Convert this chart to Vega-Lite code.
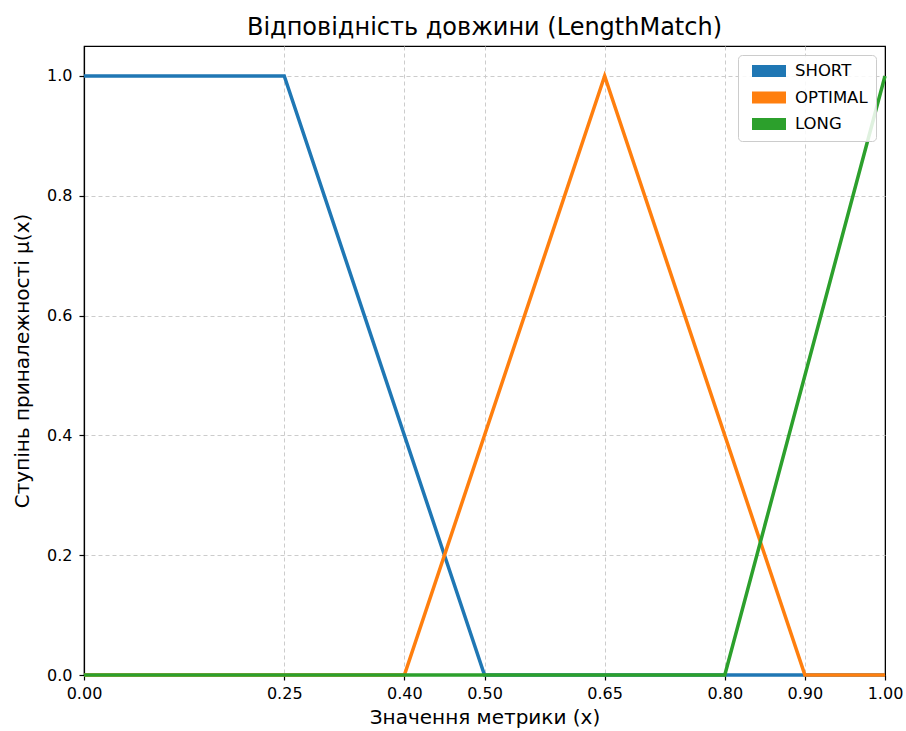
{
  "$schema": "https://vega.github.io/schema/vega-lite/v6.json",
  "width": 801,
  "height": 629,
  "autosize": {"type": "none"},
  "padding": {"left": 84, "top": 46, "right": 21, "bottom": 56},
  "title": {"text": "Відповідність довжини (LengthMatch)", "fontSize": 24, "font": "DejaVu Sans", "fontWeight": "normal", "color": "#000000", "offset": 6, "anchor": "middle"},
  "config": {
    "view": {"stroke": "#000000", "strokeWidth": 1.2},
    "font": "DejaVu Sans",
    "axis": {
      "labelFont": "DejaVu Sans", "labelFontSize": 16, "labelColor": "#000000", "labelFlush": false,
      "titleFont": "DejaVu Sans", "titleFontSize": 20, "titleFontWeight": "normal", "titleColor": "#000000",
      "domainColor": "#000000", "domainWidth": 1.2, "tickColor": "#000000", "tickSize": 5, "tickWidth": 1.2,
      "gridColor": "#cccccc", "gridDash": [4, 3], "gridWidth": 1
    },
    "legend": {
      "labelFont": "DejaVu Sans", "labelFontSize": 16.5, "labelColor": "#000000"
    }
  },
  "data": {"values": [
    {"x": 0, "mu": 1, "set": "SHORT"},
    {"x": 0.25, "mu": 1, "set": "SHORT"},
    {"x": 0.5, "mu": 0, "set": "SHORT"},
    {"x": 1, "mu": 0, "set": "SHORT"},
    {"x": 0, "mu": 0, "set": "OPTIMAL"},
    {"x": 0.4, "mu": 0, "set": "OPTIMAL"},
    {"x": 0.65, "mu": 1, "set": "OPTIMAL"},
    {"x": 0.9, "mu": 0, "set": "OPTIMAL"},
    {"x": 1, "mu": 0, "set": "OPTIMAL"},
    {"x": 0, "mu": 0, "set": "LONG"},
    {"x": 0.8, "mu": 0, "set": "LONG"},
    {"x": 1, "mu": 1, "set": "LONG"}
  ]},
  "mark": {"type": "line", "strokeWidth": 3.5, "clip": false},
  "encoding": {
    "x": {"field": "x", "type": "quantitative", "scale": {"domain": [0, 1], "nice": false, "zero": false},
      "axis": {"values": [0, 0.25, 0.4, 0.5, 0.65, 0.8, 0.9, 1], "format": ".2f", "title": "Значення метрики (x)", "titlePadding": 6, "labelPadding": 5,
        "gridColor": {"condition": {"test": "datum.value === 0 || datum.value === 1", "value": "#000000"}, "value": "#cccccc"},
        "gridDash": {"condition": {"test": "datum.value === 0 || datum.value === 1", "value": []}, "value": [4, 3]}}},
    "y": {"field": "mu", "type": "quantitative", "scale": {"domain": [0, 1.05], "nice": false},
      "axis": {"values": [0, 0.2, 0.4, 0.6, 0.8, 1.0], "format": ".1f", "title": "Ступінь приналежності μ(x)", "titlePadding": 14, "labelPadding": 7}},
    "color": {"field": "set", "type": "nominal",
      "scale": {"domain": ["SHORT", "OPTIMAL", "LONG"], "range": ["#1f77b4", "#ff7f0e", "#2ca02c"]},
      "legend": {"title": null, "orient": "none", "legendX": 654, "legendY": 9,
        "symbolType": "stroke", "symbolSize": 1156, "symbolStrokeWidth": 12, "clipHeight": 16, "rowPadding": 9.5,
        "labelOffset": 3, "padding": 8, "strokeColor": "#cccccc", "fillColor": "rgba(255,255,255,0.85)", "cornerRadius": 4}},
    "detail": {"field": "set"}
  }
}
